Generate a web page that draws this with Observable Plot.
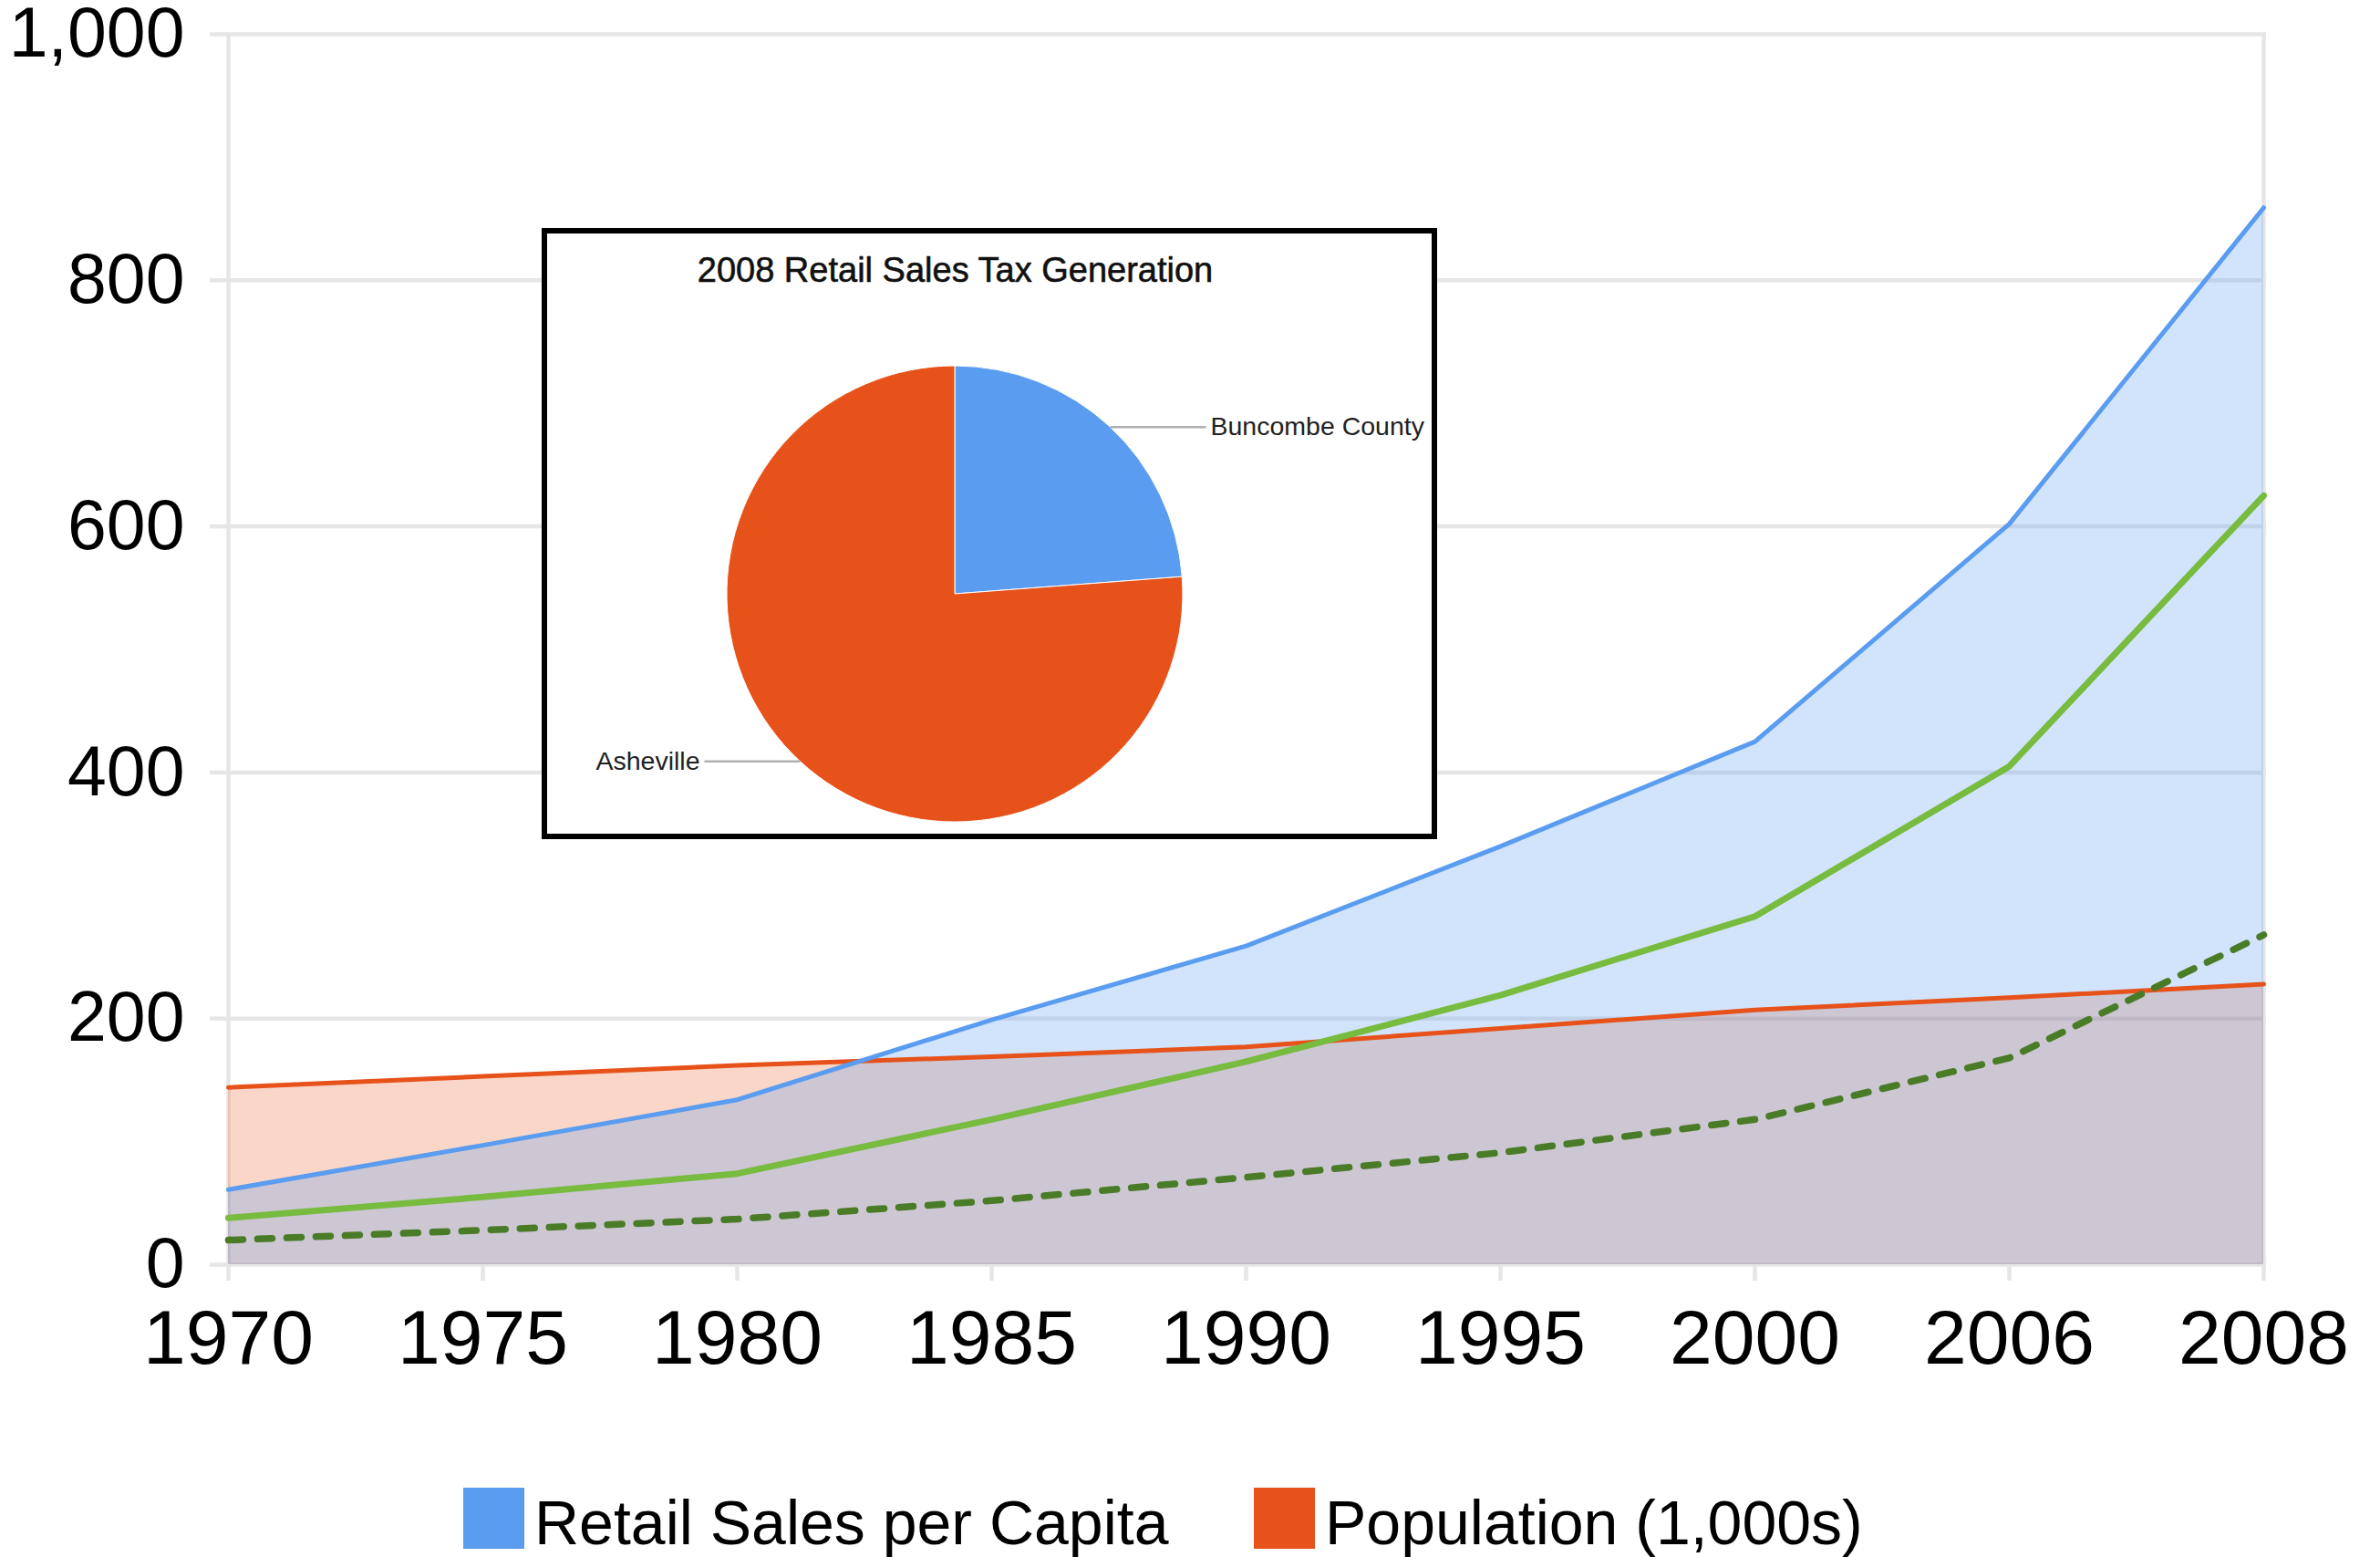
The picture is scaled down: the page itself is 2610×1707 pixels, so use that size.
<!DOCTYPE html>
<html>
<head>
<meta charset="utf-8">
<script src="https://cdn.jsdelivr.net/npm/d3@7"></script>
<script src="https://cdn.jsdelivr.net/npm/@observablehq/plot@0.6"></script>
<style>
  html, body { margin: 0; padding: 0; background: #fff; }
  #page { position: relative; width: 2610px; height: 1707px; font-family: "Liberation Sans", Arial, sans-serif; }
  #inset { position: absolute; left: 594px; top: 250px; width: 982px; height: 670px;
           border: 6px solid #000; box-sizing: border-box; background: #fff; overflow: hidden; }
  #legend { position: relative; height: 147px; }
  .swatch { position: absolute; top: 71px; width: 67px; height: 67px; }
  .label { position: absolute; top: 75px; font-size: 68px; line-height: 68px; color: #000; white-space: nowrap; }
</style>
</head>
<body>
<div id="page">
  <div id="chart"></div>
  <div id="legend"></div>
  <div id="inset"></div>
</div>
<script>
// Categories and series
const years = ["1970", "1975", "1980", "1985", "1990", "1995", "2000", "2006", "2008"];
const retailSales = [61, 97, 134, 199, 259, 340, 425, 602, 859];
const population = [144, 153, 162, 169, 177, 192, 207, 217, 228];
const solidGreen = [38, 55, 74, 118, 165, 219, 283, 405, 625];
const dottedGreen = [20, 28, 37, 52, 71, 91, 118, 168, 268];
const yTicks = [0, 200, 400, 600, 800, 1000];
const seriesNames = ["Retail Sales per Capita", "Population (1,000s)"];

// Inset pie
const pieTitle = "2008 Retail Sales Tax Generation";
const pieLabels = ["Buncombe County", "Asheville"];
const pieShares = [23.8, 76.2];

// Colours
const blue = "#5a9cf0";
const orange = "#e6521a";
const green = "#77bb3f";
const darkGreen = "#4a7c28";
const gridGrey = "#e6e6e6";
const fontFamily = "'Liberation Sans', Arial, sans-serif";

const rows = (values) => years.map((year, i) => ({year, value: values[i]}));

// Main area/line chart
const chart = Plot.plot({
  width: 2610,
  height: 1560,
  marginLeft: 246,
  marginRight: 125,
  marginTop: 37,
  marginBottom: 174,
  style: {fontFamily, background: "white", overflow: "visible"},
  x: {type: "point", domain: years, padding: 0},
  y: {domain: [0, 1000]},
  marks: [
    Plot.gridY(yTicks, {stroke: gridGrey, strokeOpacity: 1, strokeWidth: 4.5}),
    Plot.ruleX([years[0], years[years.length - 1]], {stroke: gridGrey, strokeWidth: 4.5}),
    Plot.areaY(rows(population), {x: "year", y: "value", fill: orange, fillOpacity: 0.24}),
    Plot.areaY(rows(retailSales), {x: "year", y: "value", fill: blue, fillOpacity: 0.27}),
    Plot.lineY(rows(population), {x: "year", y: "value", stroke: orange, strokeWidth: 5, strokeLinejoin: "round"}),
    Plot.lineY(rows(retailSales), {x: "year", y: "value", stroke: blue, strokeWidth: 5, strokeLinejoin: "round"}),
    Plot.lineY(rows(solidGreen), {x: "year", y: "value", stroke: green, strokeWidth: 7, strokeLinejoin: "round"}),
    Plot.lineY(rows(dottedGreen), {x: "year", y: "value", stroke: darkGreen, strokeWidth: 7.5, strokeDasharray: "16,16"}),
    Plot.axisY(yTicks, {
      label: null, tickSize: 16, tickPadding: 28, stroke: gridGrey, strokeWidth: 4.5,
      fill: "#000", fontSize: 77, tickFormat: d3.format(",")
    }),
    Plot.axisX({
      label: null, tickSize: 18, tickPadding: 31, stroke: gridGrey, strokeWidth: 4.5,
      fill: "#000", fontSize: 84
    })
  ]
});
document.getElementById("chart").append(chart);

// Legend below the chart
const legend = document.getElementById("legend");
const legendColors = [blue, orange];
const legendLeft = [508, 1375];
seriesNames.forEach((name, i) => {
  const sw = document.createElement("div");
  sw.className = "swatch";
  sw.style.left = legendLeft[i] + "px";
  sw.style.background = legendColors[i];
  const lb = document.createElement("div");
  lb.className = "label";
  lb.style.left = (legendLeft[i] + 78) + "px";
  lb.textContent = name;
  legend.append(sw, lb);
});

// Pie inset: slices from d3.pie, positioned through the plot's x/y scales
const pieData = pieLabels.map((label, i) => ({label, share: pieShares[i]}));
const arcs = d3.pie().sort(null).value(d => d.share)(pieData);
const pieColors = [blue, orange];

const leaders = arcs.map(a => {
  const mid = (a.startAngle + a.endAngle) / 2;
  const side = Math.sin(mid) >= 0 ? 1 : -1;
  const x1 = Math.sin(mid), y1 = Math.cos(mid);
  return {label: a.data.label, side, x1, y1, x2: x1 + side * 0.42};
});

function pieSlices(slices, colors) {
  return (index, scales) => {
    const cx = scales.x(0), cy = scales.y(0);
    const r = scales.x(1) - scales.x(0);
    const arc = d3.arc().innerRadius(0).outerRadius(r);
    const g = d3.create("svg:g").attr("transform", `translate(${cx},${cy})`);
    g.selectAll("path").data(slices).join("path")
      .attr("d", arc)
      .attr("fill", (d, i) => colors[i])
      .attr("stroke", "#fff")
      .attr("stroke-width", 1);
    return g.node();
  };
}

const inset = Plot.plot({
  width: 970,
  height: 658,
  margin: 0,
  style: {fontFamily, background: "white"},
  x: {domain: [-1.788, 2.092], axis: null},
  y: {domain: [-1.052, 1.58], axis: null},
  marks: [
    pieSlices(arcs, pieColors),
    Plot.link(leaders, {x1: "x1", y1: "y1", x2: "x2", y2: "y1", stroke: "#b0b0b0", strokeWidth: 2.5}),
    Plot.text(leaders.filter(d => d.side > 0), {
      x: d => d.x2 + 0.02, y: "y1", text: "label", textAnchor: "start",
      fontSize: 28.5, fill: "#222"
    }),
    Plot.text(leaders.filter(d => d.side < 0), {
      x: d => d.x2 - 0.02, y: "y1", text: "label", textAnchor: "end",
      fontSize: 28.5, fill: "#222"
    }),
    Plot.text([pieTitle], {
      x: 0, frameAnchor: "top", text: d => d, dy: 26,
      fontSize: 38, fill: "#111", stroke: "#111", strokeWidth: 0.6
    })
  ]
});
document.getElementById("inset").append(inset);
</script>
</body>
</html>
